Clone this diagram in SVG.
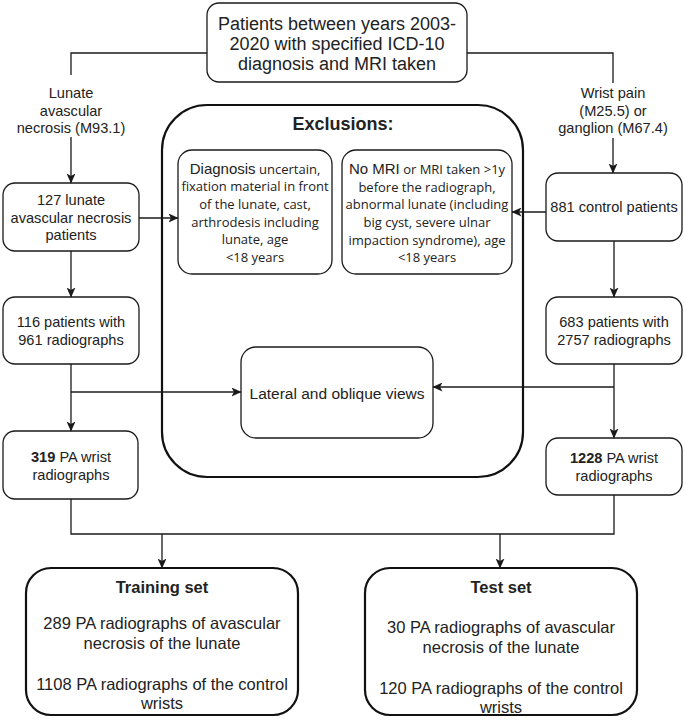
<svg xmlns="http://www.w3.org/2000/svg" width="685" height="722" viewBox="0 0 685 722">
<defs>
<marker id="ah" markerUnits="userSpaceOnUse" markerWidth="10" markerHeight="9" refX="9.5" refY="4.5" orient="auto">
<path d="M0,0 L10,4.5 L0,9 L2.5,4.5 Z" fill="#1a1a1a"/>
</marker>
<style>
.bx{fill:#fff;stroke:#1a1a1a;stroke-width:1.3}
.bb{fill:#fff;stroke:#111;stroke-width:2.2}
.ln{fill:none;stroke:#1a1a1a;stroke-width:1.3}
.t{font-family:"Liberation Sans",Arial,sans-serif;fill:#222;text-anchor:middle}
.s{font-size:14.6px}
.o{font-family:"Open Sans","Noto Sans",sans-serif;font-size:13px;fill:#222;text-anchor:middle}
.b{font-weight:bold}
</style>
</defs>
<rect width="685" height="722" fill="#fff"/>

<g id="label-left">
<text class="t s" x="71" y="98">Lunate</text>
<text class="t s" x="71" y="116">avascular</text>
<text class="t s" x="71" y="133">necrosis (M93.1)</text>
</g>
<g id="label-right">
<text class="t s" x="613" y="98">Wrist pain</text>
<text class="t s" x="613" y="116">(M25.5) or</text>
<text class="t s" x="613" y="133">ganglion (M67.4)</text>
</g>

<g id="top">
<rect class="bx" x="207" y="3" width="260" height="79" rx="12"/>
<text class="t" style="font-size:18px" x="337" y="29.5">Patients between years 2003-</text>
<text class="t" style="font-size:18px" x="337" y="49.5">2020 with specified ICD-10</text>
<text class="t" style="font-size:18px" x="337" y="69.5">diagnosis and MRI taken</text>
</g>

<g id="exclusions">
<rect class="bb" x="162" y="105" width="361" height="372" rx="45"/>
<text class="t b" style="font-size:18px" x="343" y="129.5">Exclusions:</text>
</g>

<g id="excl1">
<rect class="bx" x="178" y="150" width="154" height="124" rx="14"/>
<text class="o" x="255" y="174"><tspan style="font-family:'Liberation Sans',Arial,sans-serif;font-size:15px">Diagnosis</tspan> uncertain,</text>
<text class="o" x="255" y="191">fixation material in front</text>
<text class="o" x="255" y="209">of the lunate, cast,</text>
<text class="o" x="255" y="227">arthrodesis including</text>
<text class="o" x="255" y="244">lunate, age</text>
<text class="o" x="255" y="262">&lt;18 years</text>
</g>

<g id="excl2">
<rect class="bx" x="342" y="150" width="170" height="124" rx="14"/>
<text class="o" x="427" y="174"><tspan style="font-family:'Liberation Sans',Arial,sans-serif;font-size:15px">No MRI</tspan> or MRI taken &gt;1y</text>
<text class="o" x="427" y="192">before the radiograph,</text>
<text class="o" x="427" y="209">abnormal lunate (including</text>
<text class="o" x="427" y="227">big cyst, severe ulnar</text>
<text class="o" x="427" y="245">impaction syndrome), age</text>
<text class="o" x="427" y="262">&lt;18 years</text>
</g>

<g id="n127">
<rect class="bx" x="3" y="183" width="136" height="68" rx="12"/>
<text class="t s" x="71" y="205">127 lunate</text>
<text class="t s" x="71" y="223">avascular necrosis</text>
<text class="t s" x="71" y="240">patients</text>
</g>

<g id="n881">
<rect class="bx" x="546" y="173" width="136" height="68" rx="12"/>
<text class="t s" x="614" y="212">881 control patients</text>
</g>

<g id="n116">
<rect class="bx" x="3" y="297" width="136" height="67" rx="12"/>
<text class="t s" x="71" y="327">116 patients with</text>
<text class="t s" x="71" y="345">961 radiographs</text>
</g>

<g id="n683">
<rect class="bx" x="546" y="297" width="136" height="67" rx="12"/>
<text class="t s" x="614" y="327">683 patients with</text>
<text class="t s" x="614" y="345">2757 radiographs</text>
</g>

<g id="lateral">
<rect class="bx" x="241" y="347" width="192" height="91" rx="15"/>
<text class="t" style="font-size:15.5px" x="337" y="398.5">Lateral and oblique views</text>
</g>

<g id="n319">
<rect class="bx" x="3" y="431" width="135" height="68" rx="12"/>
<text class="t s" x="71" y="462"><tspan class="b">319</tspan> PA wrist</text>
<text class="t s" x="71" y="480">radiographs</text>
</g>

<g id="n1228">
<rect class="bx" x="546" y="438" width="136" height="57" rx="12"/>
<text class="t s" x="614" y="463"><tspan class="b">1228</tspan> PA wrist</text>
<text class="t s" x="614" y="481">radiographs</text>
</g>

<g id="training">
<rect class="bb" x="26" y="568" width="272" height="147" rx="25"/>
<text class="t b" style="font-size:16.5px" x="162" y="593">Training set</text>
<text class="t" style="font-size:16.5px" x="162" y="629">289 PA radiographs of avascular</text>
<text class="t" style="font-size:16.5px" x="162" y="649">necrosis of the lunate</text>
<text class="t" style="font-size:16.5px" x="162" y="690">1108 PA radiographs of the control</text>
<text class="t" style="font-size:16.5px" x="162" y="709">wrists</text>
</g>

<g id="test">
<rect class="bb" x="365" y="568" width="272" height="147" rx="25"/>
<text class="t b" style="font-size:16.5px" x="501" y="593">Test set</text>
<text class="t" style="font-size:16.5px" x="501" y="633">30 PA radiographs of avascular</text>
<text class="t" style="font-size:16.5px" x="501" y="653">necrosis of the lunate</text>
<text class="t" style="font-size:16.5px" x="501" y="694">120 PA radiographs of the control</text>
<text class="t" style="font-size:16.5px" x="501" y="713">wrists</text>
</g>

<g id="connectors">
<path class="ln" d="M207,53 H71 V75"/>
<path class="ln" d="M71,137 V183" marker-end="url(#ah)"/>
<path class="ln" d="M467,53 H613 V83"/>
<path class="ln" d="M613,138 V173" marker-end="url(#ah)"/>
<path class="ln" d="M139,218 H178" marker-end="url(#ah)"/>
<path class="ln" d="M546,212 H512" marker-end="url(#ah)"/>
<path class="ln" d="M71,251 V297" marker-end="url(#ah)"/>
<path class="ln" d="M614,241 V297" marker-end="url(#ah)"/>
<path class="ln" d="M71,364 V431" marker-end="url(#ah)"/>
<path class="ln" d="M71,392 H241" marker-end="url(#ah)"/>
<path class="ln" d="M614,364 V438" marker-end="url(#ah)"/>
<path class="ln" d="M614,387 H433" marker-end="url(#ah)"/>
<path class="ln" d="M71,499 V534 H614 V495"/>
<path class="ln" d="M162,534 V568" marker-end="url(#ah)"/>
<path class="ln" d="M500,534 V568" marker-end="url(#ah)"/>
</g>
</svg>
